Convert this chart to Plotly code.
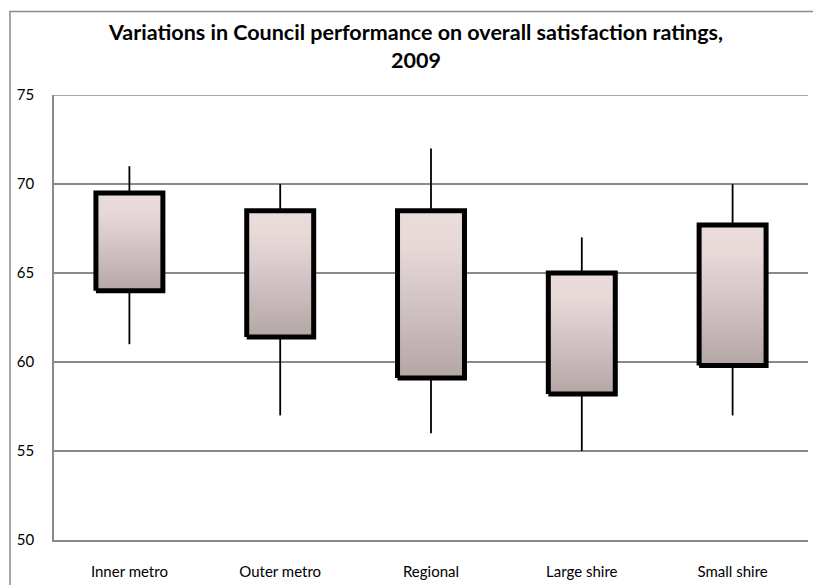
import plotly.graph_objects as go

categories = ["Inner metro", "Outer metro", "Regional", "Large shire", "Small shire"]
low = [61, 57, 56, 55, 57]
box_bottom = [64, 61.4, 59.1, 58.2, 59.8]
box_top = [69.5, 68.5, 68.5, 65, 67.7]
high = [71, 70, 72, 67, 70]
y_ticks = [50, 55, 60, 65, 70, 75]
title_lines = ["Variations in Council performance on overall satisfaction ratings,", "2009"]

W, H = 813, 585
ML, MR, MT, MB = 54, 5, 95, 42
FONT = "Lato, 'Open Sans', sans-serif"
GRID = "#8a8a8a"

fig = go.Figure()
half = 0.222

# whiskers
for i in range(len(categories)):
    fig.add_trace(go.Scatter(
        x=[i, i], y=[low[i], high[i]], mode="lines",
        line=dict(color="black", width=1.8),
        hoverinfo="skip", showlegend=False))

# boxes with vertical gradient
for i in range(len(categories)):
    fig.add_trace(go.Scatter(
        x=[i - half, i + half, i + half, i - half, i - half],
        y=[box_bottom[i], box_bottom[i], box_top[i], box_top[i], box_bottom[i]],
        mode="lines", fill="toself",
        fillgradient=dict(type="vertical",
                          colorscale=[[0, "#b3a6a5"], [0.45, "#d2c4c4"],
                                      [0.8, "#e8d9d9"], [1, "#ebdcdc"]]),
        line=dict(color="black", width=5),
        hoverinfo="skip", showlegend=False))

pw = W - ML - MR
ph = H - MT - MB

def px_x(p):
    return (p - ML) / pw

def px_y(p):
    return (H - MB - p) / ph

title_html = "<br>".join("<b>" + t + "</b>" for t in title_lines)

fig.update_layout(
    width=W, height=H,
    margin=dict(l=ML, r=MR, t=MT, b=MB),
    paper_bgcolor="white", plot_bgcolor="white",
    showlegend=False,
    font=dict(family=FONT, color="black", size=15),
    xaxis=dict(range=[-0.5, len(categories) - 0.5],
               tickvals=list(range(len(categories))), ticktext=categories,
               showgrid=False, zeroline=False, showline=True,
               linecolor=GRID, linewidth=1.5, ticks="",
               ticklabelstandoff=17, tickfont=dict(size=15)),
    yaxis=dict(range=[y_ticks[0], y_ticks[-1]], tickvals=y_ticks,
               showgrid=True, gridcolor=GRID, gridwidth=1.5,
               zeroline=False, showline=True, linecolor=GRID, linewidth=1.5,
               ticks="", ticklabelstandoff=15, tickfont=dict(size=15)),
    annotations=[
        dict(text=title_html,
             xref="paper", yref="paper", x=px_x(415), y=px_y(46),
             xanchor="center", yanchor="middle", align="center", showarrow=False,
             font=dict(family=FONT, size=21.5, color="black")),
    ],
    shapes=[
        dict(type="rect", xref="paper", yref="paper",
             x0=px_x(10), x1=px_x(830), y0=px_y(11), y1=px_y(620),
             line=dict(color=GRID, width=1.5), layer="below"),
        dict(type="line", xref="paper", yref="y",
             x0=0, x1=1, y0=y_ticks[-1], y1=y_ticks[-1],
             line=dict(color=GRID, width=1.5), layer="below"),
    ],
)

fig.write_html("out.html")
